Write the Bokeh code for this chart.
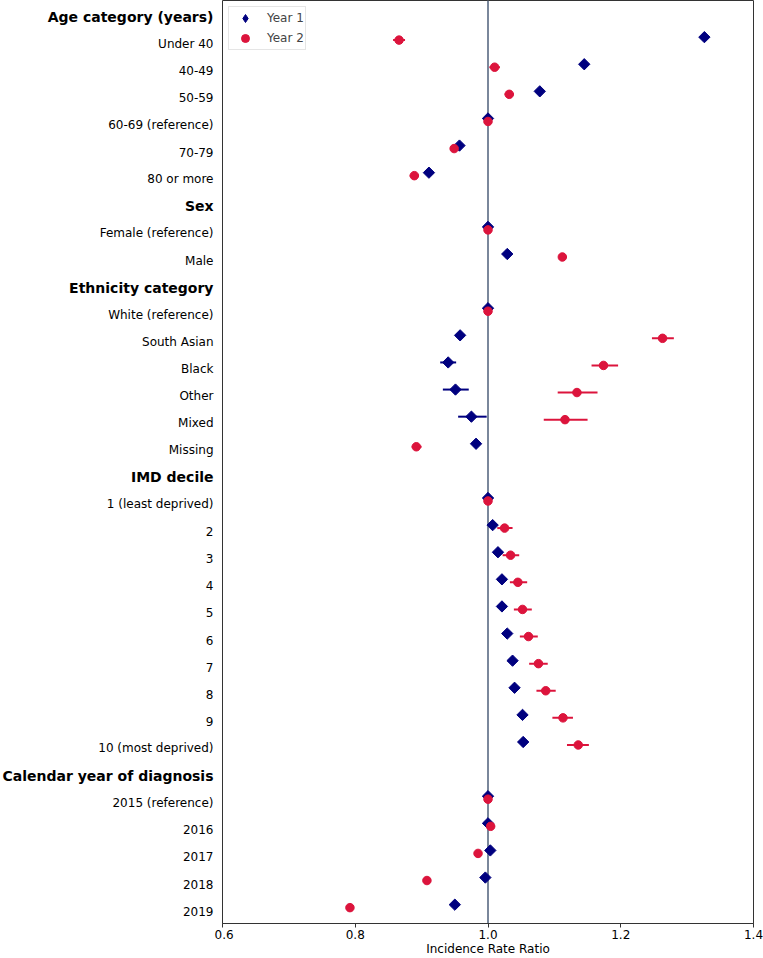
from bokeh.plotting import figure
from bokeh.layouts import row
from bokeh.models import (ColumnDataSource, Range1d, Legend, LegendItem, Span, FixedTicker,
                          PrintfTickFormatter)
from bokeh.embed import file_html
from bokeh.resources import INLINE
from bokeh.core.properties import value

# ---- data ----
headers = ["Age category (years)", "Sex", "Ethnicity category", "IMD decile", "Calendar year of diagnosis"]

age_cats = ["Under 40", "40-49", "50-59", "60-69 (reference)", "70-79", "80 or more"]
age_y1 = [1.326, 1.145, 1.078, 1.0, 0.957, 0.911]
age_y1_lo = [1.320, 1.140, 1.074, 1.0, 0.954, 0.907]
age_y1_hi = [1.332, 1.150, 1.082, 1.0, 0.960, 0.915]
age_y2 = [0.866, 1.010, 1.032, 1.0, 0.949, 0.889]
age_y2_lo = [0.857, 1.002, 1.025, 1.0, 0.944, 0.882]
age_y2_hi = [0.875, 1.018, 1.039, 1.0, 0.954, 0.896]

sex_cats = ["Female (reference)", "Male"]
sex_y1 = [1.0, 1.029]
sex_y1_lo = [1.0, 1.026]
sex_y1_hi = [1.0, 1.032]
sex_y2 = [1.0, 1.112]
sex_y2_lo = [1.0, 1.108]
sex_y2_hi = [1.0, 1.116]

eth_cats = ["White (reference)", "South Asian", "Black", "Other", "Mixed", "Missing"]
eth_y1 = [1.0, 0.958, 0.940, 0.951, 0.975, 0.982]
eth_y1_lo = [1.0, 0.952, 0.928, 0.932, 0.955, 0.978]
eth_y1_hi = [1.0, 0.964, 0.952, 0.971, 0.998, 0.986]
eth_y2 = [1.0, 1.263, 1.174, 1.134, 1.116, 0.892]
eth_y2_lo = [1.0, 1.247, 1.156, 1.105, 1.084, 0.885]
eth_y2_hi = [1.0, 1.280, 1.196, 1.165, 1.150, 0.900]

imd_cats = ["1 (least deprived)", "2", "3", "4", "5", "6", "7", "8", "9", "10 (most deprived)"]
imd_y1 = [1.0, 1.007, 1.015, 1.021, 1.021, 1.029, 1.037, 1.040, 1.052, 1.053]
imd_y1_lo = [1.0, 1.000, 1.008, 1.014, 1.014, 1.022, 1.030, 1.033, 1.045, 1.046]
imd_y1_hi = [1.0, 1.014, 1.022, 1.028, 1.028, 1.036, 1.044, 1.047, 1.059, 1.060]
imd_y2 = [1.0, 1.025, 1.034, 1.045, 1.052, 1.061, 1.076, 1.087, 1.113, 1.136]
imd_y2_lo = [1.0, 1.014, 1.022, 1.033, 1.039, 1.048, 1.062, 1.073, 1.097, 1.119]
imd_y2_hi = [1.0, 1.037, 1.047, 1.059, 1.066, 1.075, 1.090, 1.102, 1.128, 1.152]

year_cats = ["2015 (reference)", "2016", "2017", "2018", "2019"]
year_y1 = [1.0, 1.0, 1.0035, 0.996, 0.950]
year_y1_lo = [1.0, 0.997, 1.000, 0.993, 0.947]
year_y1_hi = [1.0, 1.003, 1.007, 0.999, 0.953]
year_y2 = [1.0, 1.004, 0.985, 0.908, 0.792]
year_y2_lo = [1.0, 0.998, 0.979, 0.904, 0.788]
year_y2_hi = [1.0, 1.010, 0.991, 0.912, 0.796]

x_ticks = [0.6, 0.8, 1.0, 1.2, 1.4]
series_names = ["Year 1", "Year 2"]

sections = [
    (headers[0], age_cats, age_y1, age_y1_lo, age_y1_hi, age_y2, age_y2_lo, age_y2_hi),
    (headers[1], sex_cats, sex_y1, sex_y1_lo, sex_y1_hi, sex_y2, sex_y2_lo, sex_y2_hi),
    (headers[2], eth_cats, eth_y1, eth_y1_lo, eth_y1_hi, eth_y2, eth_y2_lo, eth_y2_hi),
    (headers[3], imd_cats, imd_y1, imd_y1_lo, imd_y1_hi, imd_y2, imd_y2_lo, imd_y2_hi),
    (headers[4], year_cats, year_y1, year_y1_lo, year_y1_hi, year_y2, year_y2_lo, year_y2_hi),
]

head = dict(label=[], y=[], x=[])
rows = dict(label=[], y=[], x=[], y1=[], y1lo=[], y1hi=[], y2=[], y2lo=[], y2hi=[])
k = 0
for h, cats, a, alo, ahi, b, blo, bhi in sections:
    head["label"].append(h)
    head["y"].append(-k)
    head["x"].append(1.0)
    k += 1
    for i, c in enumerate(cats):
        rows["label"].append(c)
        rows["y"].append(-k)
        rows["x"].append(1.0)
        rows["y1"].append(a[i]); rows["y1lo"].append(alo[i]); rows["y1hi"].append(ahi[i])
        rows["y2"].append(b[i]); rows["y2lo"].append(blo[i]); rows["y2hi"].append(bhi[i])
        k += 1

off = 0.055
rows["yb"] = [y + off for y in rows["y"]]
rows["yr"] = [y - off for y in rows["y"]]
src = ColumnDataSource(rows)
hsrc = ColumnDataSource(head)

FONT = "DejaVu Sans"
BLUE = "#00007f"
RED = "#dc143c"
H = 958
BOTTOM = 0

yr = Range1d(-(k - 1) - 0.64, 0.406)

# ---- left label panel ----
pl = figure(width=214, height=H, output_backend="svg", toolbar_location=None,
            x_range=Range1d(0, 1), y_range=yr,
            min_border_left=0, min_border_right=0, min_border_top=0, min_border_bottom=BOTTOM)
pl.xaxis.visible = False
pl.yaxis.visible = False
pl.xgrid.visible = False
pl.ygrid.visible = False
pl.outline_line_color = None
pl.text(x="x", y="y", text="label", source=src, x_offset=-1, y_offset=5,
        text_align="right", text_baseline="middle", text_font=value(FONT),
        text_font_size="12px", text_color="black")
pl.text(x="x", y="y", text="label", source=hsrc, x_offset=-1, y_offset=5,
        text_align="right", text_baseline="middle", text_font=value(FONT),
        text_font_size="14px", text_font_style="bold", text_color="black")

# ---- main panel ----
p = figure(width=549, height=H, output_backend="svg", toolbar_location=None,
           x_range=Range1d(0.6, 1.4), y_range=yr,
           min_border_left=8, min_border_right=10, min_border_top=0, min_border_bottom=BOTTOM)
p.xgrid.visible = False
p.ygrid.visible = False
p.yaxis.visible = False
p.outline_line_color = "#333333"
p.outline_line_width = 1

xa = p.xaxis[0]
xa.ticker = FixedTicker(ticks=x_ticks)
xa.formatter = PrintfTickFormatter(format="%.1f")
xa.minor_tick_line_color = None
xa.major_tick_in = 0
xa.major_tick_out = 4
xa.major_tick_line_color = "#333333"
xa.axis_line_color = "#333333"
xa.major_label_text_font = FONT
xa.major_label_text_font_size = "12px"
xa.major_label_text_color = "black"
xa.major_label_standoff = 2
xa.axis_label = "Incidence Rate Ratio"
xa.axis_label_text_font = FONT
xa.axis_label_text_font_size = "12px"
xa.axis_label_text_font_style = "normal"
xa.axis_label_text_color = "black"
xa.axis_label_standoff = 0

p.add_layout(Span(location=1.0, dimension="height", line_color="#7a879b", line_width=2, level="underlay"))

p.segment(x0="y1lo", x1="y1hi", y0="yb", y1="yb", source=src, line_color=BLUE, line_width=2)
p.segment(x0="y2lo", x1="y2hi", y0="yr", y1="yr", source=src, line_color=RED, line_width=2)
p.scatter(x="y1", y="yb", source=src, marker="square", angle=0.785398, size=8,
          fill_color=BLUE, line_color=BLUE)
p.scatter(x="y2", y="yr", source=src, marker="circle", size=8.5,
          fill_color=RED, line_color=RED)

# legend-only renderers (a single NaN point, never drawn in the plot)
nan = float("nan")
lb = p.scatter(x=[nan], y=[nan], marker="diamond", fill_color=BLUE, line_color=BLUE)
lr = p.scatter(x=[nan], y=[nan], marker="circle", fill_color=RED, line_color=RED)

legend = Legend(items=[LegendItem(label=series_names[0], renderers=[lb]),
                       LegendItem(label=series_names[1], renderers=[lr])],
                location="top_left", margin=6, padding=1, spacing=-3,
                glyph_width=30, glyph_height=20, label_height=20, label_standoff=7,
                label_text_font=FONT, label_text_font_size="12px",
                border_line_color="#cccccc", border_line_width=1,
                background_fill_alpha=0.8)
p.add_layout(legend)

layout = row(pl, p, spacing=0)
open("out.html", "w").write(file_html(layout, INLINE))
